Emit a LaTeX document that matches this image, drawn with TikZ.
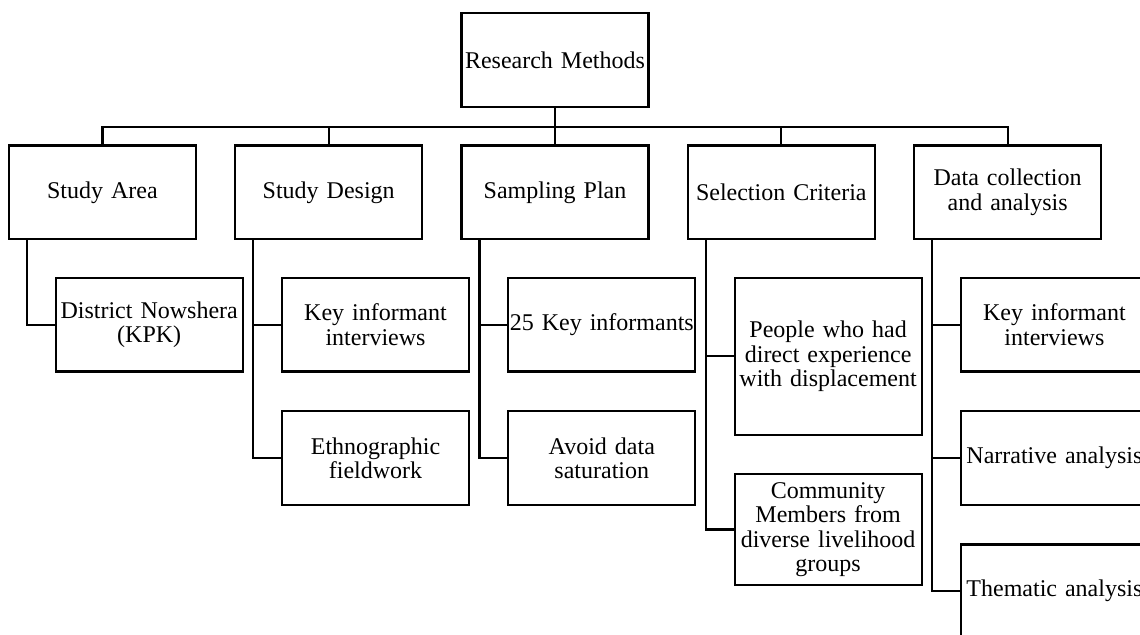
\documentclass[tikz,border=0pt]{standalone}
\usepackage{fontspec}
\setmainfont{Liberation Serif}
\usetikzlibrary{trees}

\begin{document}
\begin{tikzpicture}[
  x=0.5pt, y=-0.5pt,
  line width=1.1pt,
  grow=down,
  level distance=66.15pt,
  sibling distance=113.15pt,
  every node/.style={draw,rectangle,line width=1.1pt,minimum width=93.5pt,
    minimum height=46.75pt,text width=93.5pt,inner xsep=0pt,inner ysep=1pt,
    align=center,font=\fontsize{12}{12.2}\selectfont},
  edge from parent/.style={draw,line width=1.1pt},
  edge from parent path={
    (\tikzparentnode.south) -- +(0,-9.6pt) -| (\tikzchildnode.north)
  },
  level 2/.style={
    grow via three points={one child at (23.4pt,-66.25pt)
      and two children at (23.4pt,-66.25pt) and (23.4pt,-132.85pt)},
    edge from parent path={
      (\tikzparentnode.south west) ++(9.5pt,0pt) |- (\tikzchildnode.west)
    }
  },
  wide list/.style={
    grow via three points={one child at (23.4pt,-82pt)
      and two children at (23.4pt,-82pt) and (23.4pt,-168.6pt)}
  }
]
  \clip (0,0) rectangle (1140,635);
  \node (methods) at (555,60) {Research Methods}
    child {node (area) {Study Area}
      child {node (nowshera) {District Nowshera\\(KPK)}}}
    child {node (design) {Study Design}
      child {node (interviews) {Key informant\\interviews}}
      child {node (fieldwork) {Ethnographic\\fieldwork}}}
    child {node (sampling) {Sampling Plan}
      child {node (informants) {25 Key informants}}
      child {node (saturation) {Avoid data\\saturation}}}
    child {node (criteria) {Selection Criteria}
      child[wide list] {node[minimum height=78.5pt] (displaced) {People who had\\direct experience\\with displacement}}
      child[wide list] {node[minimum height=55.5pt] (community) {Community\\Members from\\diverse livelihood\\groups}}}
    child {node (collection) {Data collection\\and analysis}
      child {node (kii) {Key informant\\interviews}}
      child {node (narrative) {Narrative analysis}}
      child {node (thematic) {Thematic analysis}}};
\end{tikzpicture}
\end{document}
